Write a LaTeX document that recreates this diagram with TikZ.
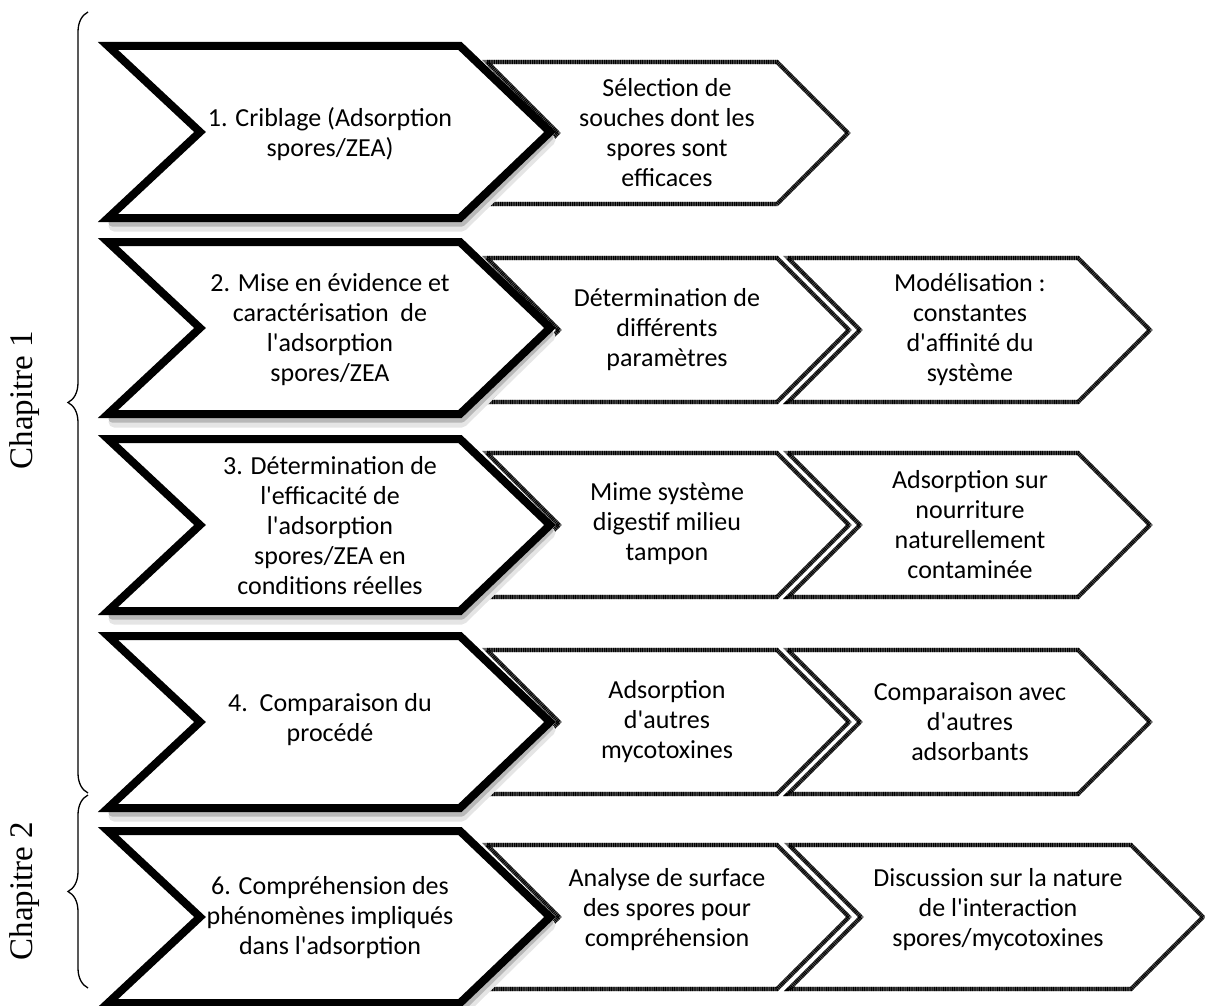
\documentclass[tikz,border=0pt]{standalone}
\usepackage{fontspec}
\setmainfont{Carlito}[Ligatures=TeXOff]
\newfontfamily\chapfont{Liberation Serif}
\usetikzlibrary{decorations.pathreplacing}
\tikzset{
  bigline/.style={draw=black, fill=white, line width=8pt, line join=miter, miter limit=10},
  bigshadeA/.style={draw=black!10, line width=11pt, line join=round, line cap=round},
  bigshadeB/.style={draw=black!28, line width=7pt, line join=round, line cap=round},
  smallbase/.style={draw=black!60, fill=white, line width=4.2pt, line join=miter, miter limit=10},
  smalltex/.style={draw=black, line width=4.2pt, line join=miter, miter limit=10, dash pattern=on 1pt off 0.8pt},
  txt/.style={font=\fontsize{26}{30}\selectfont, align=center, inner sep=0pt},
  chap/.style={font=\chapfont\fontsize{33}{38}\selectfont, rotate=90, inner sep=0pt},
  bracestyle/.style={decorate, decoration={brace, amplitude=20pt}, line width=1.3pt}
}
\newcommand\mychevpath[6]{% left, notch, bodyright, tip, ycentre, half height
  (#1,{#5-#6}) -- (#3,{#5-#6}) -- (#4,#5) -- (#3,{#5+#6}) -- (#1,{#5+#6}) -- (#2,#5) -- cycle}
\newcommand\mybigchev[1]{%
  \draw[bigshadeA] (550,{#1+8}) -- (462,{#1+94}) -- (114,{#1+94});
  \draw[bigshadeB] (550,{#1+5}) -- (462,{#1+91}) -- (112,{#1+91});
  \draw[bigline] \mychevpath{108}{200}{460}{550}{#1}{86};}
\newcommand\mysmallchev[4]{% left x, body right x, y centre, half height
  \draw[smallbase] \mychevpath{#1}{#1+#4}{#2}{#2+#4}{#3}{#4};
  \draw[smalltex] \mychevpath{#1}{#1+#4}{#2}{#2+#4}{#3}{#4};}
\begin{document}
\begin{tikzpicture}[x=1pt,y=-1pt]
\useasboundingbox (0,0) rectangle (1205,1006);
% small chevrons first
\mysmallchev{487}{777}{133}{71}
\mysmallchev{487}{777}{330}{72}
\mysmallchev{788}{1078}{330}{72}
\mysmallchev{487}{777}{525}{72}
\mysmallchev{788}{1078}{525}{72}
\mysmallchev{487}{777}{722}{72}
\mysmallchev{788}{1078}{722}{72}
\mysmallchev{487}{777}{917}{72}
\mysmallchev{789}{1131}{917}{72}
% big chevrons
\mybigchev{132}
\mybigchev{328}
\mybigchev{525}
\mybigchev{722}
\mybigchev{917}
% texts
\node[txt] (b1) at (330,134) {1. Criblage (Adsorption\\spores/ZEA)};
\node[txt] (b2) at (330,330) {2. Mise en évidence et\\caractérisation\ \ de\\l'adsorption\\spores/ZEA};
\node[txt] (b3) at (330,526) {3. Détermination de\\l'efficacité de\\l'adsorption\\spores/ZEA en\\conditions réelles};
\node[txt] (b4) at (330,720) {4.\ \ Comparaison du\\procédé};
\node[txt] (b5) at (330,918) {6. Compréhension des\\phénomènes impliqués\\dans l'adsorption};
\node[txt] (m1) at (667,133) {Sélection de\\souches dont les\\spores sont\\efficaces};
\node[txt] (m2) at (667,330) {Détermination de\\différents\\paramètres};
\node[txt] (r2) at (970,330) {Modélisation :\\constantes\\d'affinité du\\système};
\node[txt] (m3) at (667,524) {Mime système\\digestif milieu\\tampon};
\node[txt] (r3) at (970,525) {Adsorption sur\\nourriture\\naturellement\\contaminée};
\node[txt] (m4) at (667,722) {Adsorption\\d'autres\\mycotoxines};
\node[txt] (r4) at (970,722) {Comparaison avec\\d'autres\\adsorbants};
\node[txt] (m5) at (667,910) {Analyse de surface\\des spores pour\\compréhension};
\node[txt] (r5) at (998,910) {Discussion sur la nature\\de l'interaction\\spores/mycotoxines};
% braces
\coordinate (c1a) at (88,793);
\coordinate (c1b) at (88,12);
\coordinate (c2a) at (88,988);
\coordinate (c2b) at (88,795);
\draw[bracestyle] (c1a) -- (c1b);
\draw[bracestyle] (c2a) -- (c2b);
\node[chap] (ch1) at (25,400) {Chapitre 1};
\node[chap] (ch2) at (25,891) {Chapitre 2};
\end{tikzpicture}
\end{document}
